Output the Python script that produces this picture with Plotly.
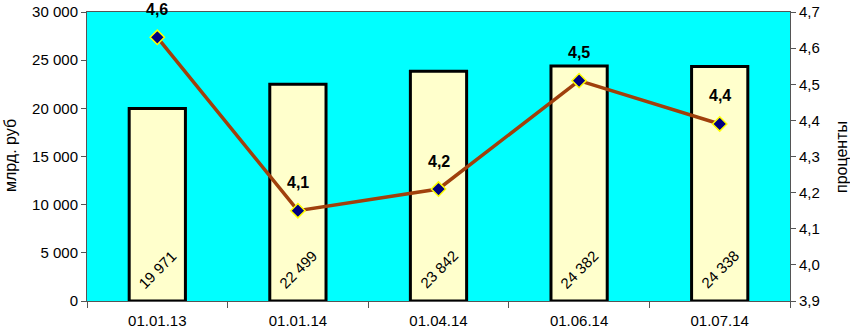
import plotly.graph_objects as go

categories = ["01.01.13", "01.01.14", "01.04.14", "01.06.14", "01.07.14"]
bar_values = [19971, 22499, 23842, 24382, 24338]
bar_labels = ["19 971", "22 499", "23 842", "24 382", "24 338"]
pct_values = [4.63, 4.15, 4.21, 4.51, 4.39]
pct_labels = ["4,6", "4,1", "4,2", "4,5", "4,4"]
left_ticks = [0, 5000, 10000, 15000, 20000, 25000, 30000]
left_ticktext = ["0", "5 000", "10 000", "15 000", "20 000", "25 000", "30 000"]
right_ticks = [3.9, 4.0, 4.1, 4.2, 4.3, 4.4, 4.5, 4.6, 4.7]
right_ticktext = ["3,9", "4,0", "4,1", "4,2", "4,3", "4,4", "4,5", "4,6", "4,7"]

FONT = "Liberation Sans, Arial, sans-serif"

fig = go.Figure()
fig.add_trace(go.Bar(
    x=categories, y=bar_values, width=0.4,
    marker=dict(color="#FFFFCC", line=dict(color="black", width=3)),
    hoverinfo="skip", showlegend=False,
))
fig.add_trace(go.Scatter(
    x=categories, y=pct_values, yaxis="y2", mode="lines+markers",
    line=dict(color="#A0400C", width=3.5),
    marker=dict(symbol="diamond", size=11, color="#000080",
                line=dict(color="#FFFF00", width=1.5)),
    showlegend=False,
))

annotations = []
for c, lab in zip(categories, bar_labels):
    annotations.append(dict(
        x=c, y=3300, xref="x", yref="y", text=lab, textangle=-45,
        showarrow=False, xanchor="center", yanchor="middle",
        font=dict(family=FONT, size=15, color="black"),
    ))
for c, v, lab in zip(categories, pct_values, pct_labels):
    annotations.append(dict(
        x=c, y=v, xref="x", yref="y2", text="<b>" + lab + "</b>",
        showarrow=False, xanchor="center", yanchor="middle", yshift=28,
        font=dict(family=FONT, size=16, color="black"),
    ))
annotations.append(dict(
    x=(10 - 87) / 703, y=(301 - 156) / 289, xref="paper", yref="paper",
    text="млрд. руб", textangle=-90, showarrow=False,
    xanchor="center", yanchor="middle",
    font=dict(family=FONT, size=16, color="black"),
))
annotations.append(dict(
    x=(841 - 87) / 703, y=(301 - 157) / 289, xref="paper", yref="paper",
    text="проценты", textangle=-90, showarrow=False,
    xanchor="center", yanchor="middle",
    font=dict(family=FONT, size=16, color="black"),
))

fig.update_layout(
    width=850, height=331,
    margin=dict(l=87, r=60, t=12, b=30),
    paper_bgcolor="white", plot_bgcolor="#00FFFF",
    font=dict(family=FONT, size=15, color="black"),
    bargap=0.6,
    xaxis=dict(
        type="category", tickson="boundaries", ticks="outside", ticklen=6,
        tickcolor="#555555", showline=True, linecolor="#555555", linewidth=1,
        mirror=True, showgrid=False, tickfont=dict(size=15), automargin=False,
        ticklabelstandoff=6,
    ),
    yaxis=dict(
        range=[0, 30000], tickvals=left_ticks, ticktext=left_ticktext,
        ticks="outside", ticklen=5, tickcolor="#555555", showline=True,
        linecolor="#555555", showgrid=False, zeroline=False,
        tickfont=dict(size=15), automargin=False,
    ),
    yaxis2=dict(
        range=[3.9, 4.7], tickvals=right_ticks, ticktext=right_ticktext,
        overlaying="y", side="right", ticks="outside", ticklen=5,
        tickcolor="#555555", showline=True, linecolor="#555555",
        showgrid=False, zeroline=False, tickfont=dict(size=15), automargin=False,
    ),
    annotations=annotations,
)

fig.write_html(
    "out.html",
    config={"displayModeBar": False},
    post_script="document.body.style.margin='0px';document.body.style.overflow='hidden';",
)
